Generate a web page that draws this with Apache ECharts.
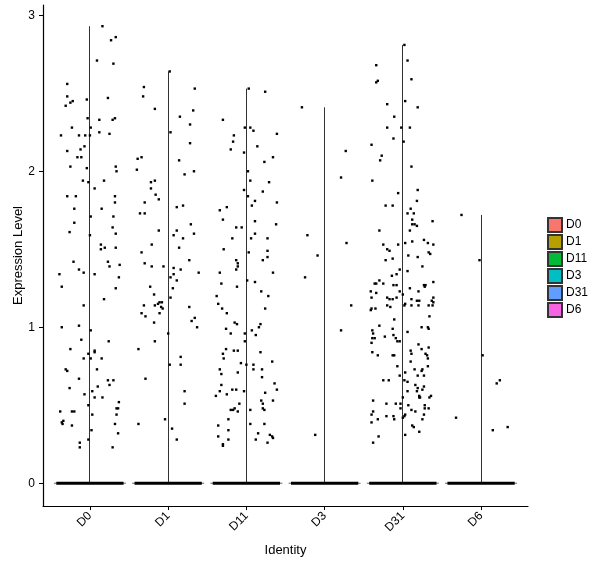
<!DOCTYPE html>
<html>
<head>
<meta charset="utf-8">
<script src="https://cdn.jsdelivr.net/npm/echarts@6/dist/echarts.min.js"></script>
<style>html,body{margin:0;padding:0;background:#fff}#c{width:600px;height:568px}</style>
</head>
<body>
<div id="c"></div>
<script>
var categories = ['D0','D1','D11','D3','D31','D6'];
var colors = ['#F8766D','#B79F00','#00BA38','#00BFC4','#619CFF','#F564E3'];
var yTicks = [0,1,2,3];

var d0Values = [2.93,2.86,2.84,2.71,2.69,2.56,2.48,2.46,2.47,2.45,2.44,2.42,2.34,2.33,2.34,2.33,2.28,2.28,2.23,2.23,2.23,2.23,2.25,2.24,2.16,2.13,2.14,2.09,2.09,2.03,2.02,2.03,2.00,1.94,1.93,1.94,1.89,1.84,1.84,1.84,1.80,1.76,1.76,1.71,1.71,1.67,1.64,1.61,1.60,1.59,1.53,1.50,1.51,1.51,1.42,1.42,1.40,1.39,1.37,1.34,1.35,1.34,1.32,1.26,1.25,1.18,1.14,1.01,1.00,0.98,0.92,0.91,0.86,0.85,0.84,0.83,0.80,0.80,0.80,0.73,0.72,0.73,0.67,0.66,0.66,0.63,0.62,0.61,0.59,0.57,0.55,0.55,0.52,0.50,0.48,0.48,0.46,0.46,0.46,0.44,0.44,0.39,0.40,0.38,0.37,0.38,0.34,0.32,0.28,0.26,0.23,0.23];
var d0Jitter = [0.16,0.33,0.27,0.09,0.30,-0.29,-0.29,-0.04,0.23,-0.22,-0.25,-0.31,-0.03,0.12,0.32,0.29,-0.23,0.01,-0.37,-0.14,-0.06,0.00,0.12,0.25,-0.07,-0.29,-0.12,-0.16,-0.11,-0.25,-0.04,0.33,0.34,-0.09,-0.02,0.18,0.06,-0.29,-0.18,0.32,0.32,-0.20,0.15,0.01,0.30,-0.20,0.29,-0.26,0.33,0.00,0.14,0.14,0.19,0.33,-0.21,0.23,0.38,0.25,-0.14,-0.39,-0.08,0.06,0.37,-0.36,0.33,0.18,-0.08,-0.14,-0.36,0.01,-0.11,0.24,-0.25,0.06,0.06,-0.02,-0.08,0.01,0.15,-0.31,-0.29,0.09,-0.14,0.23,0.30,0.25,0.10,-0.26,0.03,-0.07,0.06,0.16,0.37,-0.02,0.34,0.36,-0.38,-0.23,-0.20,0.03,0.34,-0.36,-0.34,-0.35,-0.23,0.32,0.02,0.36,-0.02,-0.13,-0.13,0.29];

var d1Values = [2.64,2.54,2.53,2.48,2.40,2.39,2.35,2.30,2.25,2.18,2.08,2.09,2.07,2.01,2.00,1.98,1.94,1.93,1.89,1.85,1.82,1.80,1.78,1.77,1.73,1.73,1.66,1.62,1.62,1.60,1.59,1.57,1.53,1.51,1.48,1.43,1.41,1.39,1.39,1.38,1.37,1.35,1.34,1.32,1.30,1.26,1.25,1.21,1.19,1.16,1.16,1.15,1.14,1.14,1.13,1.12,1.13,1.09,1.09,1.07,1.06,1.04,1.03,1.00,0.96,0.91,0.86,0.81,0.76,0.76,0.67,0.59,0.51,0.41,0.38,0.35,0.28];
var d1Jitter = [0.02,-0.31,0.34,-0.32,-0.17,0.32,0.15,0.28,0.03,0.28,-0.39,-0.34,0.14,-0.40,0.33,0.21,-0.17,-0.22,-0.22,-0.16,-0.12,-0.30,0.19,0.11,-0.36,-0.30,0.29,-0.12,0.11,0.33,0.07,0.19,-0.21,0.14,-0.34,0.27,-0.30,-0.21,-0.06,0.07,0.16,0.39,0.07,0.03,0.11,-0.23,0.06,-0.18,0.03,-0.11,-0.08,-0.13,-0.31,-0.17,-0.09,-0.07,0.27,-0.11,-0.34,-0.29,0.34,0.30,-0.18,0.37,0.00,-0.17,-0.38,0.16,0.02,0.16,-0.29,0.21,0.21,-0.04,-0.38,0.05,0.11];

var d11Values = [2.53,2.51,2.33,2.28,2.28,2.26,2.23,2.24,2.19,2.16,2.14,2.12,2.09,2.06,2.00,1.94,1.93,1.88,1.87,1.84,1.81,1.80,1.78,1.77,1.75,1.69,1.68,1.66,1.64,1.64,1.60,1.57,1.57,1.57,1.50,1.48,1.49,1.43,1.41,1.43,1.45,1.39,1.37,1.35,1.35,1.30,1.29,1.28,1.26,1.23,1.20,1.20,1.15,1.12,1.12,1.09,1.03,1.02,1.02,1.00,0.99,0.98,0.96,0.96,0.95,0.91,0.86,0.85,0.85,0.84,0.83,0.80,0.78,0.77,0.76,0.76,0.73,0.73,0.73,0.70,0.71,0.68,0.64,0.63,0.60,0.60,0.60,0.59,0.59,0.58,0.56,0.57,0.53,0.53,0.51,0.51,0.48,0.47,0.47,0.46,0.47,0.48,0.47,0.41,0.38,0.38,0.37,0.34,0.32,0.31,0.30,0.29,0.30,0.28,0.28,0.26,0.25,0.24];
var d11Jitter = [0.03,0.24,-0.30,-0.02,0.05,0.09,-0.16,0.39,-0.17,0.14,-0.20,-0.03,0.34,0.23,0.02,0.05,0.29,-0.03,0.21,0.02,0.11,0.39,0.07,-0.25,-0.34,-0.30,0.11,0.38,-0.13,-0.06,0.11,-0.18,0.06,0.27,-0.29,0.03,0.27,-0.13,-0.11,0.21,0.27,-0.11,-0.13,-0.34,0.34,0.01,0.11,-0.32,-0.12,0.19,-0.38,0.28,-0.36,-0.31,0.24,-0.25,-0.15,-0.12,0.18,0.16,-0.26,0.07,-0.20,-0.02,0.12,-0.02,-0.26,-0.16,-0.11,0.18,-0.30,-0.29,0.33,-0.07,0.00,0.09,-0.34,0.09,0.20,-0.32,-0.11,0.20,0.36,-0.32,0.39,-0.18,-0.13,-0.03,-0.34,0.24,-0.39,-0.25,0.19,0.34,0.21,-0.09,-0.15,-0.20,-0.17,-0.11,0.05,0.21,0.23,-0.23,0.05,0.23,-0.36,-0.23,0.15,0.30,0.33,0.34,-0.36,-0.23,0.12,0.27,-0.30,-0.30];

var d3Values = [2.41,2.13,1.96,1.59,1.54,1.46,1.32,1.14,0.98,0.31];
var d3Jitter = [-0.29,0.27,0.21,-0.22,0.28,-0.09,-0.25,0.34,0.21,-0.12];

var d31Values = [2.81,2.71,2.68,2.58,2.57,2.59,2.45,2.43,2.41,2.35,2.28,2.28,2.28,2.21,2.19,2.17,2.10,2.07,2.03,1.94,1.88,1.86,1.81,1.78,1.78,1.76,1.73,1.73,1.69,1.68,1.66,1.66,1.65,1.62,1.62,1.56,1.54,1.53,1.53,1.53,1.54,1.55,1.50,1.49,1.48,1.47,1.46,1.45,1.44,1.43,1.39,1.37,1.36,1.34,1.33,1.30,1.29,1.28,1.28,1.28,1.27,1.27,1.27,1.27,1.26,1.25,1.23,1.23,1.22,1.23,1.21,1.19,1.19,1.18,1.18,1.19,1.18,1.19,1.17,1.17,1.17,1.16,1.15,1.14,1.13,1.14,1.14,1.14,1.14,1.14,1.12,1.11,1.12,1.07,1.05,1.01,1.00,1.00,0.99,0.99,0.98,0.97,0.96,0.93,0.93,0.94,0.95,0.93,0.91,0.91,0.90,0.89,0.87,0.86,0.85,0.84,0.83,0.83,0.82,0.82,0.82,0.82,0.80,0.78,0.75,0.75,0.73,0.73,0.72,0.71,0.69,0.69,0.69,0.66,0.66,0.66,0.65,0.63,0.61,0.62,0.60,0.59,0.59,0.56,0.55,0.55,0.56,0.55,0.55,0.53,0.51,0.51,0.51,0.50,0.50,0.48,0.48,0.48,0.47,0.46,0.46,0.44,0.44,0.43,0.42,0.43,0.43,0.44,0.41,0.41,0.41,0.39,0.37,0.36,0.33,0.31,0.30,0.26];
var d31Jitter = [0.02,0.06,-0.34,-0.32,-0.34,0.11,0.03,-0.20,0.19,-0.11,-0.20,-0.02,0.09,-0.12,0.01,-0.40,-0.27,-0.29,0.11,-0.39,0.19,-0.06,0.18,-0.22,-0.13,0.10,0.06,0.14,0.12,0.38,0.12,0.15,0.18,-0.30,0.09,0.27,0.32,0.39,-0.25,-0.06,0.03,0.12,-0.20,-0.17,0.33,0.35,0.07,0.19,-0.13,-0.22,0.25,-0.04,0.06,-0.08,-0.14,-0.30,0.39,-0.36,-0.34,-0.25,-0.12,-0.08,0.27,0.29,0.28,0.09,-0.41,-0.04,-0.34,0.20,0.00,-0.20,-0.08,-0.17,-0.13,-0.40,0.11,0.39,0.18,0.21,0.37,0.39,0.03,-0.20,-0.16,0.02,0.11,0.20,0.33,0.38,-0.40,-0.41,-0.35,0.34,-0.11,-0.30,0.24,0.32,0.33,-0.13,-0.39,0.06,-0.38,-0.39,-0.36,-0.23,-0.12,-0.09,-0.07,-0.04,-0.40,0.20,0.33,0.24,0.10,-0.39,0.11,0.29,0.31,-0.32,-0.13,-0.11,0.32,0.10,-0.07,0.32,0.15,0.25,0.24,0.03,0.19,0.27,-0.04,-0.25,-0.18,0.02,0.06,0.16,0.19,0.27,0.25,0.06,0.18,0.21,0.22,0.21,0.36,0.34,0.00,-0.38,-0.21,-0.09,-0.03,0.07,0.28,0.28,0.33,-0.03,0.11,0.16,-0.38,-0.40,0.03,0.02,0.00,-0.21,-0.12,0.27,0.25,-0.32,-0.11,-0.40,0.12,0.14,0.21,0.03,-0.31,-0.38];

var d6Values = [1.72,1.43,0.82,0.64,0.66,0.42,0.36,0.34];
var d6Jitter = [-0.25,-0.02,0.02,0.20,0.24,-0.32,0.34,0.15];

var groupValues = [d0Values,d1Values,d11Values,d3Values,d31Values,d6Values];
var groupJitter = [d0Jitter,d1Jitter,d11Jitter,d3Jitter,d31Jitter,d6Jitter];

var chart = echarts.init(document.getElementById('c'), null, {renderer:'canvas'});

function violinRender(params, api) {
  var i = api.value(0), top = api.value(1);
  var base = api.coord([i, 0]);
  var tip = api.coord([i, top]);
  var l = api.coord([i - 0.46, 0]);
  var r = api.coord([i + 0.46, 0]);
  var bl = api.coord([i - 0.43, 0]);
  var br = api.coord([i + 0.43, 0]);
  var cx = Math.floor(base[0]) + 0.5;
  return {
    type: 'group',
    children: [
      {type:'line', shape:{x1:cx, y1:base[1], x2:cx, y2:tip[1]}, style:{stroke:'#333', lineWidth:1}},
      {type:'line', shape:{x1:l[0], y1:base[1], x2:r[0], y2:base[1]}, style:{stroke:'#666', lineWidth:1}},
      {type:'rect', shape:{x:bl[0], y:base[1]-1.5, width:br[0]-bl[0], height:3}, style:{fill:'#000'}}
    ]
  };
}

var series = [];
categories.forEach(function(name, i){
  var vals = groupValues[i];
  series.push({
    name: name,
    type: 'custom',
    renderItem: violinRender,
    itemStyle: {color: colors[i], borderColor:'#333', borderWidth:1},
    data: [[i, Math.max.apply(null, vals)]],
    encode: {x:0, y:1},
    z: 2
  });
});
var pts = [];
groupValues.forEach(function(vals, i){
  vals.forEach(function(v, k){ pts.push([i + groupJitter[i][k], v]); });
});
series.push({
  name: 'cells',
  type: 'scatter',
  data: pts,
  symbol: 'rect',
  symbolSize: 2.4,
  itemStyle: {color:'#000', opacity: 1},
  z: 3,
  silent: true
});

chart.setOption({
  animation: false,
  textStyle: {fontFamily: 'Liberation Sans, Arial, sans-serif'},
  grid: {left: 43, right: 72, top: 5, bottom: 62},
  legend: {
    orient: 'vertical', left: 542, top: 212,
    data: categories, icon: 'rect', itemWidth: 14, itemHeight: 14, itemGap: 1,
    textStyle: {fontSize: 12, color: '#000', padding:[0,0,0,-1]},
    selectedMode: false
  },
  xAxis: {
    type: 'value', min: -0.6, max: 5.6,
    name: 'Identity', nameLocation: 'middle', nameGap: 38,
    nameTextStyle: {fontSize: 13, color: '#000'},
    splitLine: {show:false},
    axisLine: {show:true, onZero:false, lineStyle:{color:'#000', width:1.2}},
    axisTick: {show:true, length:4, lineStyle:{color:'#000'}, customValues:[0,1,2,3,4,5]},
    axisLabel: {rotate:45, fontSize:12, color:'#000', margin:8, customValues:[0,1,2,3,4,5],
      formatter: function(v){ return categories[Math.round(v)]; }}
  },
  yAxis: {
    type: 'value', min: -0.146, max: 3.066,
    name: 'Expression Level', nameLocation: 'middle', nameGap: 18, nameMoveOverlap: false,
    nameTextStyle: {fontSize: 13, color: '#000'},
    splitLine: {show:false},
    axisLine: {show:true, onZero:false, lineStyle:{color:'#000', width:1.2}},
    axisTick: {show:true, length:4, lineStyle:{color:'#000'}, customValues: yTicks},
    axisLabel: {fontSize:12, color:'#000', margin:8, customValues: yTicks,
      formatter: function(v){ return String(Math.round(v)); }}
  },
  series: series
});
</script>
</body>
</html>
